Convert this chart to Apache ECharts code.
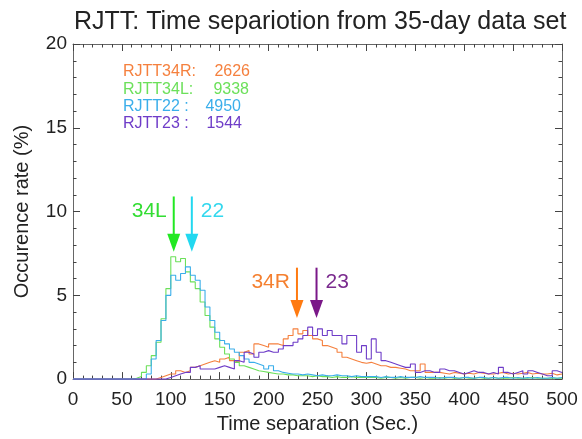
<!DOCTYPE html>
<html>
<head>
<meta charset="utf-8">
<script src="https://cdn.jsdelivr.net/npm/echarts@6/dist/echarts.min.js"></script>
<style>
html,body{margin:0;padding:0;background:#fff;}
#chart{width:582px;height:439px;}
</style>
</head>
<body>
<div id="chart"></div>
<script>
// ---------------- DATA ----------------
const BIN_WIDTH = 5;          // seconds per histogram bin (bins start at 0)
const X_MAX = 500;
const X_INTERVAL = 50;        // tick labels 0, 50, ..., 500
const Y_MAX = 20;
const Y_INTERVAL = 5;         // tick labels 0, 5, 10, 15, 20

// Occurrence rate (%) per 5-sec bin
const rate34R = [
  0,0,0,0,0,0,0,0,0,0,
  0,0,0,0,0,0,0,0.1,0.2,0.3,
  0.3,0.5,0.4,0.5,0.7,0.8,0.9,1.0,1.1,1.0,
  1.2,1.3,1.1,1.0,1.6,1.7,1.5,2.1,2.0,1.9,
  2.1,2.1,2.0,2.4,2.6,3.0,2.7,2.9,2.6,2.4,
  2.3,2.0,1.9,1.8,1.6,1.3,1.2,1.1,1.0,0.95,
  1.0,0.9,0.8,0.8,0.7,0.7,0.65,0.6,0.5,0.5,
  0.5,0.9,0.4,0.4,0.4,0.35,0.3,0.4,0.35,0.3,
  0.35,0.3,0.4,0.35,0.3,0.3,0.35,0.4,0.3,0.35,
  0.3,0.35,0.4,0.3,0.35,0.3,0.3,0.35,0.25,0.3
];
const rate34L = [
  0,0,0,0,0,0,0,0,0,0,
  0,0,0.05,0.15,0.4,0.8,1.4,2.2,3.6,5.4,
  7.3,7.0,7.2,6.4,5.8,5.4,4.6,3.8,3.1,2.4,
  1.9,1.5,1.2,1.0,0.8,0.7,0.6,0.5,0.45,0.4,
  0.35,0.3,0.3,0.25,0.25,0.2,0.2,0.2,0.15,0.2,
  0.15,0.15,0.1,0.15,0.1,0.1,0.15,0.1,0.1,0.1,
  0.1,0.1,0.05,0.1,0.1,0.05,0.1,0.05,0.1,0.1,
  0.05,0.1,0.05,0.05,0.1,0.05,0.1,0.05,0.05,0.1,
  0.05,0.05,0.1,0.05,0.05,0.1,0.05,0.05,0.05,0.1,
  0.05,0.05,0.05,0.1,0.05,0.05,0.05,0.05,0.05,0.05
];
const rate22 = [
  0,0,0,0,0,0,0,0,0,0,
  0,0,0,0,0,0.3,1.2,2.3,3.5,5.0,
  6.2,5.9,6.3,6.7,6.2,5.9,5.3,4.3,3.5,2.8,
  2.3,2.1,1.8,1.6,1.4,1.2,1.0,0.9,0.8,0.6,
  0.8,0.5,0.4,0.35,0.3,0.3,0.25,0.3,0.25,0.2,
  0.25,0.2,0.2,0.25,0.2,0.2,0.15,0.2,0.15,0.15,
  0.15,0.15,0.1,0.15,0.1,0.1,0.15,0.1,0.1,0.1,
  0.15,0.1,0.1,0.1,0.05,0.1,0.1,0.1,0.05,0.1,
  0.1,0.05,0.1,0.1,0.05,0.1,0.05,0.1,0.1,0.05,
  0.1,0.05,0.1,0.05,0.1,0.05,0.05,0.1,0.05,0.1
];
const rate23 = [
  0,0,0,0,0,0,0,0,0,0,
  0,0,0,0,0,0,0,0,0,0.1,
  0.2,0.3,0.4,0.4,0.7,0.8,0.6,0.6,0.6,0.7,
  0.8,0.7,0.6,1.1,1.0,1.6,1.5,1.3,1.6,1.7,
  1.6,1.6,1.8,2.0,2.0,2.2,2.4,2.6,3.1,2.6,
  3.0,2.6,2.9,2.6,2.6,2.1,2.6,2.6,1.6,2.0,
  1.2,2.4,1.6,1.1,1.0,0.9,0.8,0.7,0.7,0.9,
  0.4,0.5,0.5,0.4,0.4,0.6,0.5,0.5,0.4,0.3,
  0.4,0.5,0.4,0.4,0.3,0.4,0.3,0.7,0.4,0.3,
  0.4,0.5,0.3,0.5,0.4,0.3,0.2,0.2,0.5,0.4
];

// Legend block (runway : count)
const runwayNames  = ['RJTT34R:', 'RJTT34L:', 'RJTT22 :', 'RJTT23 :'];
const runwayCounts = ['2626', '9338', '4950', '1544'];

// Mean-value arrows: label, x (sec), arrow top and tip (%)
const arrowLabels = ['34L', '22', '34R', '23'];
const arrowX      = [103, 121.5, 229, 249];
const arrowTop    = [10.9, 10.9, 6.65, 6.65];
const arrowTip    = [7.6, 7.6, 3.65, 3.65];
const arrowSide   = ['left', 'right', 'left', 'right'];

// ---------------- STYLE ----------------
const seriesColors = ['#F5803E', '#6CE05A', '#3AAEEA', '#6E3CC8'];
const arrowColors  = ['#22E822', '#22D8F0', '#FF7A10', '#7A1888'];
const arrowTextColors = ['#33DD33', '#33D8EE', '#F58030', '#7A2A8E'];
const FONT = '"Liberation Sans", Arial, Helvetica, sans-serif';

function toSteps(arr) {
  const pts = arr.map((v, i) => [i * BIN_WIDTH, v]);
  pts.push([X_MAX, arr[arr.length - 1]]);
  return pts;
}

const chart = echarts.init(document.getElementById('chart'));

// primary axes sit on zero (= the grid edge); mirrored axes are pinned to the far edges
function boxAxis(extra, pinned) {
  const line = {show: true, lineStyle: {color: '#666', width: 1}};
  if (pinned) line.onZero = false;
  return Object.assign({
    type: 'value',
    axisLine: line,
    axisTick: {show: true, inside: true, length: 7, lineStyle: {color: '#444', width: 1}},
    minorTick: {show: true, splitNumber: 5, length: 3.5, lineStyle: {color: '#444', width: 1}},
    splitLine: {show: false}
  }, extra);
}

const histSeries = [rate34R, rate34L, rate22, rate23].map((arr, k) => ({
  type: 'line',
  step: 'end',
  data: toSteps(arr),
  showSymbol: false,
  symbol: 'none',
  silent: true,
  lineStyle: {color: seriesColors[k], width: 1.1},
  z: 2 + k
}));

const arrowData = arrowLabels.map((t, i) => [arrowX[i], arrowTop[i], arrowTip[i], i]);

const option = {
  animation: false,
  backgroundColor: '#fff',
  title: {
    text: 'RJTT: Time separiotion from 35-day data set',
    left: 69, top: 5,
    textStyle: {fontFamily: FONT, fontSize: 25, fontWeight: 'normal', color: '#222'}
  },
  grid: {left: 73, right: 20, top: 44, bottom: 52},
  xAxis: [boxAxis({
    min: 0, max: X_MAX, interval: X_INTERVAL, position: 'bottom',
    name: 'Time separation (Sec.)',
    nameLocation: 'middle', nameGap: 34,
    nameTextStyle: {fontFamily: FONT, fontSize: 20, color: '#222'},
    axisLabel: {fontFamily: FONT, fontSize: 19, color: '#222', margin: 11}
  }, false), boxAxis({
    min: 0, max: X_MAX, interval: X_INTERVAL, position: 'top',
    axisLabel: {show: false}
  }, true)],
  yAxis: [boxAxis({
    min: 0, max: Y_MAX, interval: Y_INTERVAL, position: 'left',
    name: 'Occurence rate (%)',
    nameLocation: 'middle', nameGap: 41,
    nameTextStyle: {fontFamily: FONT, fontSize: 20, color: '#222'},
    axisLabel: {fontFamily: FONT, fontSize: 19, color: '#222', margin: 6}
  }, false), boxAxis({
    min: 0, max: Y_MAX, interval: Y_INTERVAL, position: 'right',
    axisLabel: {show: false}
  }, true)],
  graphic: [{
    type: 'group',
    left: 123, top: 64,
    children: runwayNames.map((n, i) => ({
      type: 'text', x: 0, y: i * 17.3,
      style: {text: n, fill: seriesColors[i], font: '16px ' + FONT}
    })).concat(runwayCounts.map((c, i) => ({
      type: 'text', x: [127, 126, 118, 119][i], y: i * 17.3,
      style: {text: c, fill: seriesColors[i], font: '16px ' + FONT, align: 'right'}
    })))
  }],
  series: histSeries.concat([{
    type: 'custom',
    silent: true,
    z: 10,
    data: arrowData,
    renderItem: function (params, api) {
      const idx = api.value(3);
      const top = api.coord([api.value(0), api.value(1)]);
      const tip = api.coord([api.value(0), api.value(2)]);
      const headH = 18, headW = 6.5;
      const col = arrowColors[idx];
      const side = arrowSide[idx];
      return {
        type: 'group',
        children: [
          {type: 'line', shape: {x1: top[0], y1: top[1], x2: tip[0], y2: tip[1] - headH + 1},
           style: {stroke: col, lineWidth: 2}},
          {type: 'polygon', shape: {points: [[tip[0] - headW, tip[1] - headH], [tip[0] + headW, tip[1] - headH], [tip[0], tip[1]]]},
           style: {fill: col}},
          {type: 'text', x: side === 'left' ? top[0] - 7 : top[0] + 9, y: top[1] + 15,
           style: {text: arrowLabels[idx], fill: arrowTextColors[idx], font: '21px ' + FONT,
             align: side === 'left' ? 'right' : 'left', verticalAlign: 'middle'}}
        ]
      };
    }
  }])
};
chart.setOption(option);
</script>
</body>
</html>
